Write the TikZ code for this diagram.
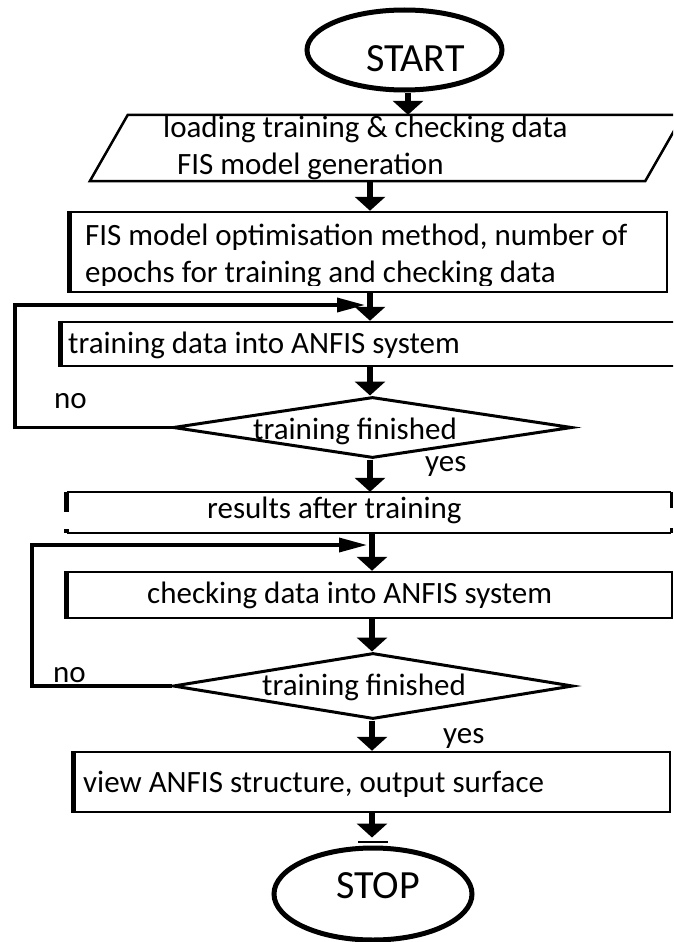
\documentclass[tikz,border=0pt]{standalone}
\usepackage{fontspec}
\setmainfont{Carlito}
\usetikzlibrary{arrows.meta,shapes.geometric}
\tikzset{
  box/.style={draw, line width=2.5pt, inner sep=0pt},
  hidden/.style={inner sep=0pt},
  term/.style={draw, ellipse, line width=5pt, inner sep=0pt},
  decision/.style={draw, diamond, line width=3pt, inner sep=0pt},
  txt/.style={anchor=base west, inner sep=0pt, font=\fontsize{31}{36}\selectfont},
  lowtxt/.style={txt, text height=15pt},
  flattxt/.style={txt, text depth=2pt},
  bigtxt/.style={anchor=base west, inner sep=0pt, font=\fontsize{40}{46}\selectfont},
  flow/.style={line width=6pt, -{Triangle[width=30pt,length=14pt]}},
  back/.style={line width=3.5pt, -{Triangle[width=14pt,length=28pt]}, shorten >=5pt},
  edge/.style={line width=5pt},
}
\begin{document}
\begin{tikzpicture}[x=1pt,y=-1pt]
\path[use as bounding box, clip] (0,0) rectangle (673,942);
\fill[white] (0,0) rectangle (673,942);

% terminals
\node[term, minimum width=195pt, minimum height=80pt] (start) at (404.5,50) {};
\node[bigtxt] (startt) at (366,71) {START};
\node[term, minimum width=198pt, minimum height=92pt] (stop) at (373,894) {};
\node[bigtxt] (stopt) at (336,898) {STOP};

% input / output parallelogram
\node[hidden, minimum width=593pt, minimum height=66pt] (io) at (386.5,148) {};
\draw[line width=2.5pt, line join=miter] ([xshift=38pt]io.north west) -- (io.north east)
  -- ([xshift=-38pt]io.south east) -- (io.south west) -- cycle;
\node[txt] (iot1) at (163,137) {loading training \& checking data};
\node[txt] (iot2) at (177,174) {FIS model generation};

% process boxes
\node[box, minimum width=596pt, minimum height=80pt] (r2) at (369,252) {};
\draw[edge] (r2.north west) -- (r2.south west);
\node[txt] (r2t1) at (85,245) {FIS model optimisation method, number of};
\begin{scope}
  \clip (80,250) rectangle (660,285);
  \node[txt] (r2t2) at (85,282) {epochs for training and checking data};
\end{scope}

\node[box, minimum width=638pt, minimum height=44pt] (r3) at (381,344) {};
\draw[edge] (r3.north west) -- (r3.south west);
\node[txt] (r3t) at (68,353) {training data into ANFIS system};

\node[hidden, minimum width=604pt, minimum height=41pt] (r4) at (369,512.5) {};
\draw[line width=2.5pt] (r4.north west) -- (r4.north east);
\draw[line width=2.5pt] (r4.south west) -- (r4.south east);
\draw[edge] (r4.north west) -- ([yshift=-20pt]r4.north west);
\draw[edge] ([yshift=4pt]r4.south west) -- (r4.south west);
\draw[line width=3pt] (r4.north east) -- ([yshift=-16pt]r4.north east);
\draw[line width=3pt] ([yshift=5pt]r4.south east) -- (r4.south east);
\node[txt] (r4t) at (207,518) {results after training};

\node[box, minimum width=604pt, minimum height=46pt] (r5) at (370,595) {};
\draw[edge] (r5.north west) -- (r5.south west);
\node[txt] (r5t) at (147,603) {checking data into ANFIS system};

\node[box, minimum width=595pt, minimum height=60pt] (r6) at (372.5,782) {};
\draw[edge] (r6.north west) -- (r6.south west);
\node[txt] (r6t) at (83,792) {view ANFIS structure, output surface};

% decisions
\node[decision, minimum width=399pt, minimum height=61pt] (d1) at (372.5,427.5) {};
\node[flattxt] (d1t) at (253,439) {training finished};
\node[decision, minimum width=400pt, minimum height=66pt] (d2) at (373,686) {};
\node[txt] (d2t) at (262,695) {training finished};

% branch labels
\node[txt] (no1) at (54,408) {no};
\node[lowtxt] (yes1) at (425,471) {yes};
\node[txt] (no2) at (53,682) {no};
\node[lowtxt] (yes2) at (443,743) {yes};

% main column and loop corners
\coordinate (colA) at (370,0);
\coordinate (colB) at (372,0);
\coordinate (loopA) at (15,305);
\coordinate (loopB) at (32,545);

% main flow
\draw[flow] ([xshift=3.5pt]start.south) -- ([xshift=3.5pt]start.south |- io.north);
\draw[flow] (colA |- io.south) -- (colA |- r2.north);
\draw[flow] (colA |- r2.south) -- (colA |- r3.north);
\draw[flow] (colA |- r3.south) -- (colA |- d1.north);
\draw[flow] (colA |- d1.south) -- (colA |- r4.north);
\draw[flow] (colB |- r4.south) -- (colB |- r5.north);
\draw[flow] (colB |- r5.south) -- (colB |- d2.north);
\draw[flow] (colB |- d2.south) -- (colB |- r6.north);
\draw[flow, shorten >=8pt] (colB |- r6.south) -- (colB |- stop.north);
\draw[line width=2pt] ([xshift=-15pt,yshift=4pt]stop.north) -- ([xshift=15pt,yshift=4pt]stop.north);

% feedback loops
\draw[back] (d1.west) -- (d1.west -| loopA) -- (loopA) -- (loopA -| colA);
\draw[back] (d2.west) -- (d2.west -| loopB) -- (loopB) -- (loopB -| colB);
\end{tikzpicture}
\end{document}
